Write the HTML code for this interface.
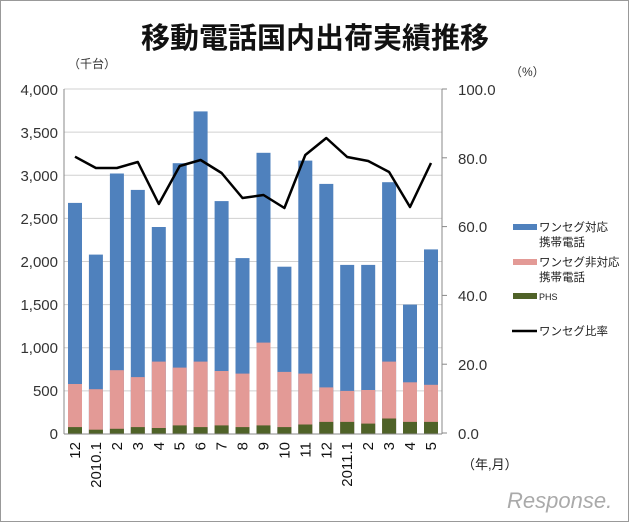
<!DOCTYPE html><html><head><meta charset="utf-8"><style>body{margin:0;background:#fff}svg{display:block}text{font-family:"Liberation Sans","Noto Sans CJK JP",sans-serif}</style></head><body>
<svg width="629" height="522" viewBox="0 0 629 522">
<rect x="0.5" y="0.5" width="628" height="521" fill="#fff" stroke="#999"/>
<text x="315" y="48" font-size="29" font-weight="bold" text-anchor="middle" fill="#111">移動電話国内出荷実績推移</text>
<text x="68" y="68" font-size="12" fill="#333">（千台）</text>
<text x="510" y="76" font-size="12" fill="#333">（%）</text>
<g stroke="#d0d0d0" stroke-width="1">
<line x1="64" y1="89" x2="442" y2="89"/><line x1="64" y1="132.1" x2="442" y2="132.1"/><line x1="64" y1="175.25" x2="442" y2="175.25"/><line x1="64" y1="218.4" x2="442" y2="218.4"/><line x1="64" y1="261.5" x2="442" y2="261.5"/><line x1="64" y1="304.6" x2="442" y2="304.6"/><line x1="64" y1="347.75" x2="442" y2="347.75"/><line x1="64" y1="390.9" x2="442" y2="390.9"/>
</g>
<g font-size="15" fill="#333" text-anchor="end">
<text x="58" y="95">4,000</text><text x="58" y="138">3,500</text><text x="58" y="181">3,000</text><text x="58" y="224">2,500</text><text x="58" y="267">2,000</text><text x="58" y="310">1,500</text><text x="58" y="353">1,000</text><text x="58" y="396">500</text><text x="58" y="439">0</text></g>
<g font-size="15" fill="#333">
<text x="458" y="95">100.0</text><text x="458" y="164">80.0</text><text x="458" y="232">60.0</text><text x="458" y="301">40.0</text><text x="458" y="370">20.0</text><text x="458" y="439">0.0</text></g>
<g fill="#4f81bd">
<rect x="68" y="202.9" width="14" height="231.1"/><rect x="88.9" y="254.6" width="14" height="179.4"/><rect x="109.9" y="173.5" width="14" height="260.5"/><rect x="130.8" y="189.9" width="14" height="244.1"/><rect x="151.8" y="227" width="14" height="207"/><rect x="172.7" y="163.2" width="14" height="270.8"/><rect x="193.6" y="111.4" width="14" height="322.6"/><rect x="214.6" y="201.1" width="14" height="232.9"/><rect x="235.5" y="258.1" width="14" height="175.9"/><rect x="256.5" y="152.8" width="14" height="281.2"/><rect x="277.4" y="266.7" width="14" height="167.3"/><rect x="298.3" y="160.6" width="14" height="273.4"/><rect x="319.3" y="183.9" width="14" height="250.1"/><rect x="340.2" y="264.9" width="14" height="169.1"/><rect x="361.2" y="264.9" width="14" height="169.1"/><rect x="382.1" y="182.2" width="14" height="251.8"/><rect x="403" y="304.6" width="14" height="129.4"/><rect x="424" y="249.4" width="14" height="184.6"/>
</g>
<g fill="#e39a96">
<rect x="68" y="384" width="14" height="50"/><rect x="88.9" y="389.2" width="14" height="44.8"/><rect x="109.9" y="370.2" width="14" height="63.8"/><rect x="130.8" y="377.1" width="14" height="56.9"/><rect x="151.8" y="361.6" width="14" height="72.4"/><rect x="172.7" y="367.6" width="14" height="66.4"/><rect x="193.6" y="361.6" width="14" height="72.4"/><rect x="214.6" y="371" width="14" height="63"/><rect x="235.5" y="373.6" width="14" height="60.4"/><rect x="256.5" y="342.6" width="14" height="91.4"/><rect x="277.4" y="371.9" width="14" height="62.1"/><rect x="298.3" y="373.6" width="14" height="60.4"/><rect x="319.3" y="387.4" width="14" height="46.6"/><rect x="340.2" y="390.9" width="14" height="43.1"/><rect x="361.2" y="390" width="14" height="44"/><rect x="382.1" y="361.6" width="14" height="72.4"/><rect x="403" y="382.3" width="14" height="51.7"/><rect x="424" y="384.8" width="14" height="49.2"/>
</g>
<g fill="#4f6228">
<rect x="68" y="427.1" width="14" height="6.9"/><rect x="88.9" y="429.7" width="14" height="4.3"/><rect x="109.9" y="428.8" width="14" height="5.2"/><rect x="130.8" y="427.1" width="14" height="6.9"/><rect x="151.8" y="428" width="14" height="6"/><rect x="172.7" y="425.4" width="14" height="8.6"/><rect x="193.6" y="427.1" width="14" height="6.9"/><rect x="214.6" y="425.4" width="14" height="8.6"/><rect x="235.5" y="427.1" width="14" height="6.9"/><rect x="256.5" y="425.4" width="14" height="8.6"/><rect x="277.4" y="427.1" width="14" height="6.9"/><rect x="298.3" y="424.5" width="14" height="9.5"/><rect x="319.3" y="421.9" width="14" height="12.1"/><rect x="340.2" y="421.9" width="14" height="12.1"/><rect x="361.2" y="423.6" width="14" height="10.4"/><rect x="382.1" y="418.5" width="14" height="15.5"/><rect x="403" y="421.9" width="14" height="12.1"/><rect x="424" y="421.9" width="14" height="12.1"/>
</g>
<g stroke="#888" stroke-width="1"><line x1="64" y1="89" x2="64" y2="434"/><line x1="442" y1="89" x2="442" y2="434"/><line x1="64" y1="434" x2="442" y2="434"/>
<line x1="442" y1="89" x2="447" y2="89"/><line x1="442" y1="157.8" x2="447" y2="157.8"/><line x1="442" y1="226.6" x2="447" y2="226.6"/><line x1="442" y1="295.4" x2="447" y2="295.4"/><line x1="442" y1="364.2" x2="447" y2="364.2"/><line x1="442" y1="433" x2="447" y2="433"/></g>
<polyline points="75,156.7 95.9,168 116.9,168 137.8,162 158.8,204 179.7,166 200.6,160 221.6,173 242.5,198 263.5,195 284.4,208 305.3,155 326.3,138 347.2,157 368.2,161 389.1,172 410,207 431,163" fill="none" stroke="#000" stroke-width="2.5" stroke-linejoin="round"/>
<g font-size="15" fill="#111" text-anchor="end">
<text transform="translate(80,442) rotate(-90)">12</text><text transform="translate(100.9,442) rotate(-90)">2010.1</text><text transform="translate(121.9,442) rotate(-90)">2</text><text transform="translate(142.8,442) rotate(-90)">3</text><text transform="translate(163.8,442) rotate(-90)">4</text><text transform="translate(184.7,442) rotate(-90)">5</text><text transform="translate(205.6,442) rotate(-90)">6</text><text transform="translate(226.6,442) rotate(-90)">7</text><text transform="translate(247.5,442) rotate(-90)">8</text><text transform="translate(268.5,442) rotate(-90)">9</text><text transform="translate(289.4,442) rotate(-90)">10</text><text transform="translate(310.3,442) rotate(-90)">11</text><text transform="translate(331.3,442) rotate(-90)">12</text><text transform="translate(352.2,442) rotate(-90)">2011.1</text><text transform="translate(373.2,442) rotate(-90)">2</text><text transform="translate(394.1,442) rotate(-90)">3</text><text transform="translate(415,442) rotate(-90)">4</text><text transform="translate(436,442) rotate(-90)">5</text>
</g>
<g font-size="11.5" fill="#222">
<rect x="513" y="224" width="24" height="6" fill="#4f81bd"/><text x="539" y="231">ワンセグ対応</text><text x="539" y="246">携帯電話</text>
<rect x="513" y="259" width="24" height="6" fill="#e39a96"/><text x="539" y="266">ワンセグ非対応</text><text x="539" y="281">携帯電話</text>
<rect x="513" y="293" width="24" height="6" fill="#4f6228"/><text x="539" y="300" font-size="9">PHS</text>
<line x1="512" y1="331" x2="537" y2="331" stroke="#000" stroke-width="2.5"/><text x="539" y="335">ワンセグ比率</text>
<text x="462" y="469" font-size="13">（年,月）</text></g>
<text x="507" y="508" font-size="22" fill="#aaa" font-style="italic">Response.</text>
</svg></body></html>
